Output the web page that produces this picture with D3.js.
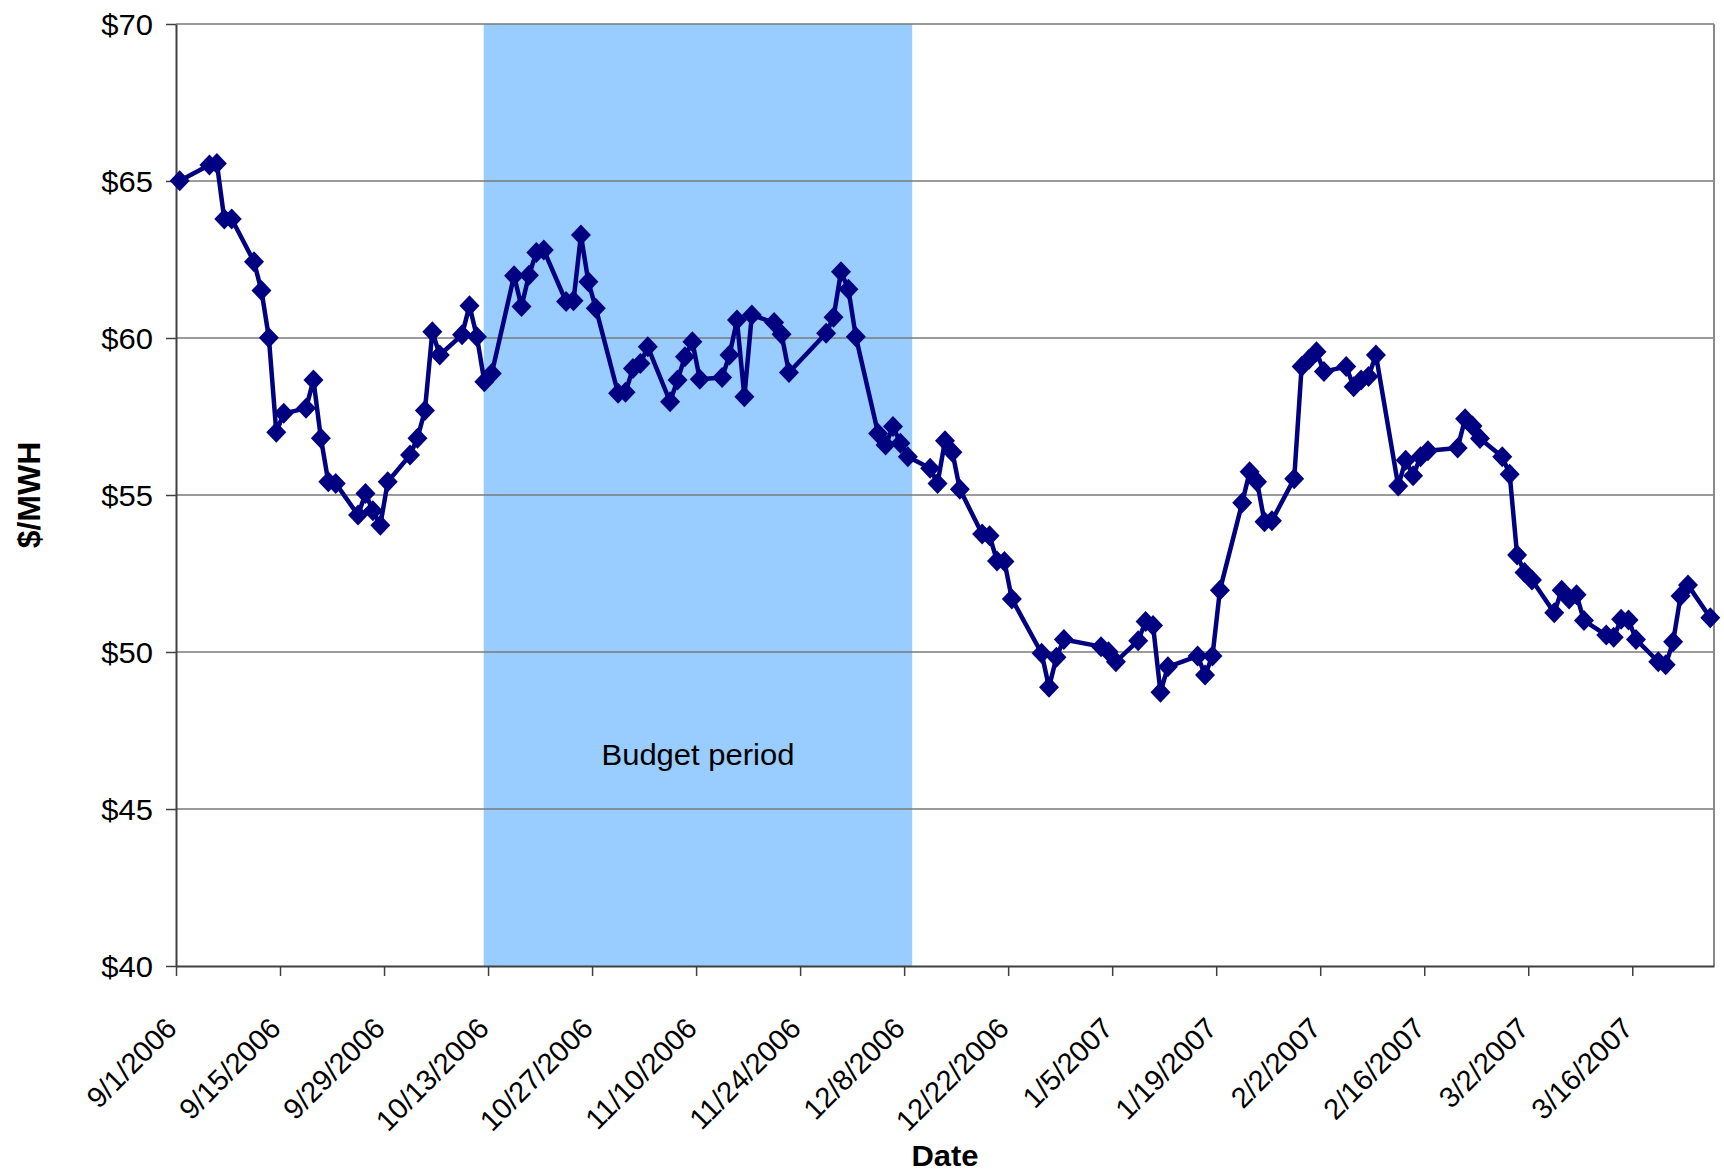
<!DOCTYPE html>
<html>
<head>
<meta charset="utf-8">
<script src="https://cdn.jsdelivr.net/npm/d3@7"></script>
<style>
  body { margin: 0; background: #fff; }
  text { font-family: "Liberation Sans", Arial, sans-serif; }
</style>
</head>
<body>
<div id="chart"></div>
<script>

// trading days and $/MWH prices
var dates = [
  "9/1/2006", "9/5/2006", "9/6/2006", "9/7/2006", "9/8/2006",
  "9/11/2006", "9/12/2006", "9/13/2006", "9/14/2006", "9/15/2006",
  "9/18/2006", "9/19/2006", "9/20/2006", "9/21/2006", "9/22/2006",
  "9/25/2006", "9/26/2006", "9/27/2006", "9/28/2006", "9/29/2006",
  "10/2/2006", "10/3/2006", "10/4/2006", "10/5/2006", "10/6/2006",
  "10/9/2006", "10/10/2006", "10/11/2006", "10/12/2006", "10/13/2006",
  "10/16/2006", "10/17/2006", "10/18/2006", "10/19/2006", "10/20/2006",
  "10/23/2006", "10/24/2006", "10/25/2006", "10/26/2006", "10/27/2006",
  "10/30/2006", "10/31/2006", "11/1/2006", "11/2/2006", "11/3/2006",
  "11/6/2006", "11/7/2006", "11/8/2006", "11/9/2006", "11/10/2006",
  "11/13/2006", "11/14/2006", "11/15/2006", "11/16/2006", "11/17/2006",
  "11/20/2006", "11/21/2006", "11/22/2006",
  "11/27/2006", "11/28/2006", "11/29/2006", "11/30/2006", "12/1/2006",
  "12/4/2006", "12/5/2006", "12/6/2006", "12/7/2006", "12/8/2006",
  "12/11/2006", "12/12/2006", "12/13/2006", "12/14/2006", "12/15/2006",
  "12/18/2006", "12/19/2006", "12/20/2006", "12/21/2006", "12/22/2006",
  "12/26/2006", "12/27/2006", "12/28/2006", "12/29/2006",
  "1/3/2007", "1/4/2007", "1/5/2007",
  "1/8/2007", "1/9/2007", "1/10/2007", "1/11/2007", "1/12/2007",
  "1/16/2007", "1/17/2007", "1/18/2007", "1/19/2007",
  "1/22/2007", "1/23/2007", "1/24/2007", "1/25/2007", "1/26/2007",
  "1/29/2007", "1/30/2007", "1/31/2007", "2/1/2007", "2/2/2007",
  "2/5/2007", "2/6/2007", "2/7/2007", "2/8/2007", "2/9/2007",
  "2/12/2007", "2/13/2007", "2/14/2007", "2/15/2007", "2/16/2007",
  "2/20/2007", "2/21/2007", "2/22/2007", "2/23/2007",
  "2/26/2007", "2/27/2007", "2/28/2007", "3/1/2007", "3/2/2007",
  "3/5/2007", "3/6/2007", "3/7/2007", "3/8/2007", "3/9/2007",
  "3/12/2007", "3/13/2007", "3/14/2007", "3/15/2007", "3/16/2007",
  "3/19/2007", "3/20/2007", "3/21/2007", "3/22/2007", "3/23/2007",
  "3/26/2007"
];

var prices = [
  65.01, 65.51, 65.56, 63.79, 63.79,
  62.43, 61.51, 60.01, 57.00, 57.60,
  57.76, 58.66, 56.81, 55.42, 55.37,
  54.36, 55.05, 54.50, 54.04, 55.42,
  56.27, 56.81, 57.69, 60.20, 59.46,
  60.10, 61.03, 60.04, 58.61, 58.87,
  61.98, 61.00, 62.00, 62.72, 62.80,
  61.16, 61.19, 63.28, 61.79, 60.95,
  58.24, 58.27, 59.03, 59.19, 59.72,
  57.97, 58.66, 59.40, 59.88, 58.69,
  58.74, 59.46, 60.57, 58.13, 60.73,
  60.49, 60.12, 58.90,
  60.15, 60.66, 62.11, 61.55, 60.04,
  56.96, 56.59, 57.18, 56.65, 56.22,
  55.85, 55.37, 56.73, 56.36, 55.18,
  53.76, 53.70, 52.90, 52.88, 51.69,
  49.96, 48.88, 49.83, 50.40,
  50.17, 50.01, 49.69,
  50.36, 50.97, 50.84, 48.72, 49.53,
  49.87, 49.27, 49.87, 51.97,
  54.75, 55.74, 55.42, 54.15, 54.18,
  55.52, 59.09, 59.32, 59.56, 58.93,
  59.09, 58.45, 58.66, 58.77, 59.46,
  55.29, 56.11, 55.61, 56.22, 56.41,
  56.50, 57.43, 57.20, 56.80,
  56.22, 55.66, 53.09, 52.53, 52.29,
  51.25, 51.97, 51.69, 51.82, 51.00,
  50.54, 50.47, 51.04, 51.02, 50.40,
  49.69, 49.59, 50.33, 51.78, 52.13,
  51.09
];

var tickDates = [
  "9/1/2006", "9/15/2006", "9/29/2006", "10/13/2006", "10/27/2006",
  "11/10/2006", "11/24/2006", "12/8/2006", "12/22/2006", "1/5/2007",
  "1/19/2007", "2/2/2007", "2/16/2007", "3/2/2007", "3/16/2007"
];
var yTicks = [40, 45, 50, 55, 60, 65, 70];
var xDomain = ["9/1/2006", "3/27/2007"];
var budgetPeriod = ["10/12/2006 10", "12/9/2006 2"];
var budgetLabel = "Budget period";

var width = 1724, height = 1174;
var margin = { top: 24, left: 176, right: 10, bottom: 208 };

var parseDate = d3.timeParse("%m/%d/%Y");
var parseHour = d3.timeParse("%m/%d/%Y %H");

var data = dates.map(function (d, i) {
  // Excel centres each point inside its day slot
  return { date: d3.timeHour.offset(parseDate(d), 12), value: prices[i] };
});

var svg = d3.select("#chart")
  .append("svg")
  .attr("width", width)
  .attr("height", height);

var x = d3.scaleTime()
  .domain(xDomain.map(parseDate))
  .range([margin.left, width - margin.right]);

var y = d3.scaleLinear()
  .domain([40, 70])
  .range([height - margin.bottom, margin.top]);

var x0 = x.range()[0], x1 = x.range()[1];
var y0 = y.range()[0], y1 = y.range()[1];

// budget period shading
svg.append("rect")
  .attr("x", x(parseHour(budgetPeriod[0])))
  .attr("y", y1)
  .attr("width", x(parseHour(budgetPeriod[1])) - x(parseHour(budgetPeriod[0])))
  .attr("height", y0 - y1)
  .attr("fill", "#99ccff");

svg.append("text")
  .attr("transform", "translate(" + ((x(parseHour(budgetPeriod[0])) + x(parseHour(budgetPeriod[1]))) / 2) + ",765) scale(1,0.95)")
  .attr("text-anchor", "middle")
  .attr("font-size", "31px")
  .attr("fill", "#000")
  .text(budgetLabel);

// gridlines
svg.append("g")
  .selectAll("line")
  .data(yTicks.slice(1))
  .enter()
  .append("line")
  .attr("x1", x0)
  .attr("x2", x1)
  .attr("y1", function (d) { return y(d) })
  .attr("y2", function (d) { return y(d) })
  .attr("stroke", "#7a7a7a")
  .attr("stroke-width", 1.5);

// right border of the plot area
svg.append("line")
  .attr("x1", x1).attr("x2", x1)
  .attr("y1", y1).attr("y2", y0)
  .attr("stroke", "#8a8a8a")
  .attr("stroke-width", 2);

var xAxis = d3.axisBottom(x)
  .tickValues(tickDates.map(parseDate))
  .tickSize(10)
  .tickSizeOuter(0)
  .tickFormat(function (d, i) { return tickDates[i] });

var yAxis = d3.axisLeft(y)
  .tickValues(yTicks)
  .tickSize(10)
  .tickSizeOuter(0)
  .tickFormat(function (d) { return "$" + d });

var gx = svg.append("g")
  .attr("transform", "translate(0," + y0 + ")")
  .call(xAxis);

gx.select(".domain").attr("stroke", "#404040").attr("stroke-width", 2);
gx.selectAll(".tick line").attr("stroke", "#404040").attr("stroke-width", 1.5);
gx.selectAll(".tick text")
  .attr("y", null)
  .attr("dy", null)
  .attr("text-anchor", "end")
  .attr("font-size", "29px")
  .attr("fill", "#000")
  .attr("transform", "translate(2,64) rotate(-45)");

var gy = svg.append("g")
  .attr("transform", "translate(" + x0 + ",0)")
  .call(yAxis);

gy.select(".domain").attr("stroke", "#404040").attr("stroke-width", 2);
gy.selectAll(".tick line").attr("stroke", "#404040").attr("stroke-width", 1.5);
gy.selectAll(".tick text")
  .attr("x", null)
  .attr("dy", null)
  .attr("font-size", "31px")
  .attr("fill", "#000")
  .attr("transform", "translate(-23,10.5) scale(1,0.95)");

// axis titles
svg.append("text")
  .attr("transform", "translate(" + ((x0 + x1) / 2) + ",1166) scale(1,0.95)")
  .attr("text-anchor", "middle")
  .attr("font-size", "31px")
  .attr("font-weight", "bold")
  .text("Date");

svg.append("text")
  .attr("transform", "translate(40," + ((y0 + y1) / 2) + ") rotate(-90)")
  .attr("text-anchor", "middle")
  .attr("font-size", "32px")
  .attr("font-weight", "bold")
  .text("$/MWH");

// price line with diamond markers
var line = d3.line()
  .x(function (d) { return x(d.date) })
  .y(function (d) { return y(d.value) });

svg.append("path")
  .datum(data)
  .attr("fill", "none")
  .attr("stroke", "#000080")
  .attr("stroke-width", 4.5)
  .attr("stroke-linejoin", "round")
  .attr("d", line);

svg.append("g")
  .selectAll("path")
  .data(data)
  .enter()
  .append("path")
  .attr("transform", function (d) { return "translate(" + x(d.date) + "," + y(d.value) + ")" })
  .attr("d", "M0,-10.5L10,0L0,10.5L-10,0Z")
  .attr("fill", "#000080");

</script>
</body>
</html>
